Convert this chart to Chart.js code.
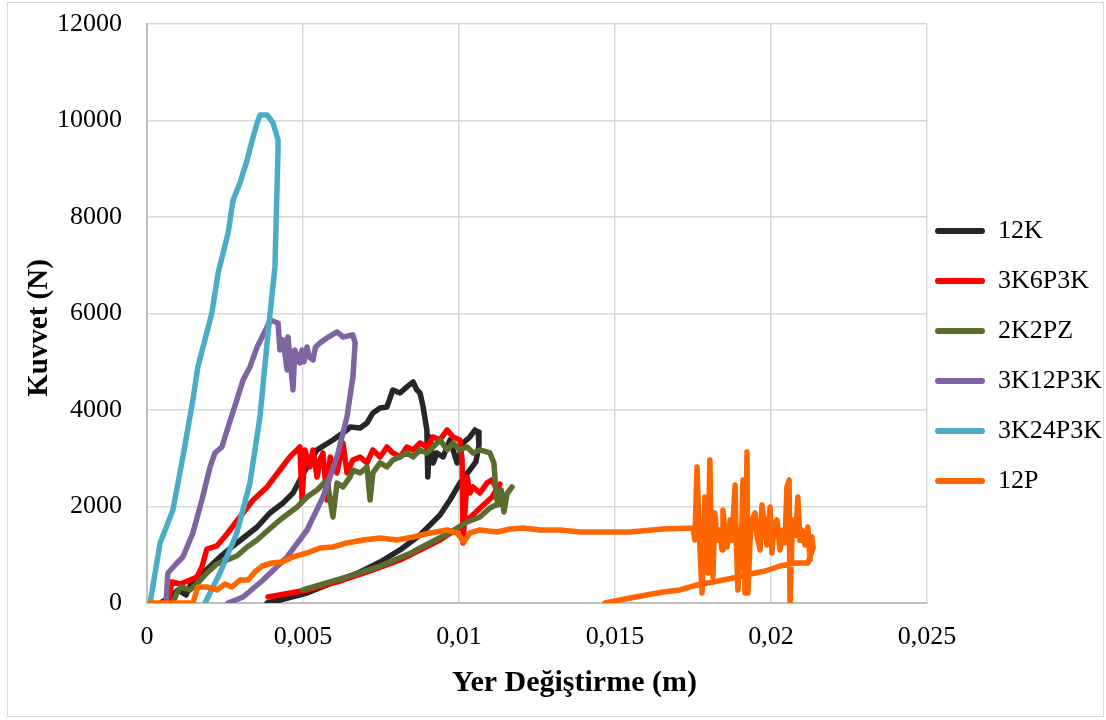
<!DOCTYPE html>
<html>
<head>
<meta charset="utf-8">
<title>Kuvvet - Yer Değiştirme</title>
<script src="https://cdn.jsdelivr.net/npm/chart.js@4/dist/chart.umd.min.js"></script>
<style>
  html, body { margin: 0; padding: 0; background: #ffffff; }
  #wrap { width: 1106px; height: 720px; position: relative; }
</style>
</head>
<body>
<div id="wrap"><canvas id="chart" width="1106" height="720"></canvas></div>
<script>
// Force (N) versus displacement (m) for each laminate; every curve loads, then unloads back to zero.
const seriesNames = ['12K', '3K6P3K', '2K2PZ', '3K12P3K', '3K24P3K', '12P'];

const x12K = [0.00042,0.00074,0.00099,0.00125,0.00147,0.0018,0.00234,0.00288,0.00353,0.00394,0.00436,0.00468,0.0049,0.00513,0.00545,0.00596,0.00641,0.00651,0.00683,0.00705,0.00724,0.00747,0.00769,0.00788,0.00811,0.00833,0.00853,0.00865,0.00875,0.00885,0.00897,0.009,0.00907,0.00917,0.00929,0.00949,0.00971,0.00994,0.01013,0.01035,0.01051,0.01061,0.01064,0.01054,0.01035,0.01003,0.00971,0.00939,0.00875,0.00811,0.00747,0.00683,0.00609,0.00513,0.00426,0.00385];
const y12K = [0,124,270,166,477,622,954,1244,1575,1866,2073,2280,2550,2819,3172,3379,3586,3648,3628,3731,3939,4042,4063,4415,4353,4478,4581,4415,4353,4063,3586,2612,3441,2902,3110,3027,3379,2902,3317,3441,3586,3545,3275,2923,2757,2488,2135,1824,1410,1099,850,643,456,207,62,0];

const x3K6P3K = [0.00067,0.0008,0.00106,0.00138,0.0016,0.00176,0.00192,0.00224,0.00256,0.00298,0.0034,0.00385,0.00426,0.00458,0.0049,0.00497,0.00506,0.00522,0.00532,0.00545,0.00554,0.00564,0.00577,0.00587,0.00609,0.00628,0.00641,0.0066,0.00683,0.00705,0.00724,0.00747,0.00769,0.00788,0.00811,0.00833,0.00853,0.00875,0.00897,0.00917,0.00939,0.00962,0.00981,0.01003,0.0101,0.01013,0.01026,0.01035,0.01045,0.01067,0.0109,0.01106,0.01122,0.01131,0.01106,0.01051,0.01003,0.00939,0.00875,0.00811,0.00715,0.00619,0.00513,0.00442,0.00388];
const y3K6P3K = [0,435,394,477,539,746,1119,1182,1430,1783,2135,2405,2757,3027,3234,2135,3172,2819,3172,2612,2964,3110,2135,3027,2695,3317,2695,2964,3027,2902,3172,3027,3234,3110,3027,3234,3172,3317,3234,3441,3379,3586,3441,3379,2964,1244,2612,2280,2405,2280,2488,2550,2343,2467,2197,1866,1575,1306,1099,891,663,456,270,187,124];

const x2K2PZ = [0.00083,0.00096,0.00109,0.00138,0.00163,0.00192,0.00224,0.00256,0.00288,0.00321,0.00353,0.00385,0.00426,0.00481,0.00513,0.00545,0.00577,0.00596,0.00609,0.00628,0.00651,0.0066,0.00683,0.00705,0.00715,0.00724,0.00747,0.00769,0.00788,0.00811,0.00833,0.00853,0.00875,0.00897,0.00917,0.00939,0.00962,0.00981,0.01003,0.01026,0.01045,0.01067,0.01099,0.01112,0.01119,0.01125,0.01135,0.01144,0.01154,0.0117,0.01131,0.01099,0.01067,0.01026,0.00962,0.00875,0.00853,0.00747,0.00641,0.00532,0.005];
const y2K2PZ = [0,207,332,270,415,622,808,891,974,1161,1306,1493,1721,1990,2197,2343,2550,1783,2488,2405,2612,2757,2695,2819,2135,2695,2902,2819,2964,3027,3110,3027,3172,3110,3234,3379,3172,3317,3172,3234,3110,3172,3110,2902,2239,2032,2343,1886,2260,2405,2073,1969,1783,1679,1430,1140,1057,767,539,332,270];

const x3K12P3K = [0.00061,0.00067,0.00096,0.00115,0.00147,0.00176,0.00202,0.00218,0.0024,0.0026,0.00288,0.00308,0.0033,0.00353,0.00385,0.00394,0.0042,0.00426,0.00436,0.00449,0.00452,0.00468,0.00474,0.0049,0.00497,0.00503,0.00513,0.0052,0.00532,0.0054,0.00554,0.00577,0.00609,0.00628,0.0066,0.00667,0.0066,0.00641,0.00609,0.00564,0.00513,0.00449,0.00372,0.00308,0.0026];
const y3K12P3K = [0,622,829,954,1451,2135,2819,3110,3234,3648,4208,4623,4892,5307,5721,5866,5804,5245,5452,4830,5514,4415,5245,4975,5245,5000,5307,5100,5037,5300,5390,5493,5618,5514,5556,5390,4685,3856,3027,2197,1513,954,477,124,0];

const x3K24P3K = [0.0001,0.00042,0.00083,0.00115,0.00147,0.00163,0.00208,0.00228,0.0026,0.00276,0.00298,0.00321,0.0034,0.00353,0.00362,0.00385,0.00404,0.0042,0.0042,0.0041,0.00388,0.00362,0.0033,0.00288,0.00234,0.00186];
const y3K24P3K = [0,1244,1928,3027,4208,4892,6012,6841,7670,8354,8707,9183,9660,9950,10116,10116,9950,9598,9390,6965,5597,3856,2488,1451,622,0];

const x12P = [0.0001,0.00147,0.00163,0.00192,0.00224,0.0025,0.00272,0.00298,0.00324,0.00346,0.00369,0.00401,0.00433,0.00468,0.00513,0.00554,0.00596,0.00641,0.00692,0.00747,0.00801,0.00853,0.00907,0.00962,0.00994,0.01016,0.01035,0.01067,0.01122,0.01163,0.01205,0.0126,0.01324,0.01388,0.01452,0.01548,0.01654,0.0175,
  0.01756,0.01763,0.01769,0.01772,0.01779,0.01785,0.01788,0.01795,0.01798,0.01804,0.01808,0.01814,0.0182,0.01827,0.01836,0.01843,0.01846,0.01852,0.01859,0.01869,0.01875,0.01885,0.01888,0.01894,0.01901,0.01907,0.0191,0.01913,0.01917,0.01923,0.01926,0.01933,0.01939,0.01949,0.01955,0.01965,0.01971,0.01981,0.01987,0.01997,0.02003,0.0201,0.02019,0.02029,0.02038,0.02045,0.02051,0.02058,0.02061,0.02067,0.0207,0.0208,0.02086,0.02093,0.02099,0.02109,0.02118,0.02125,0.02131,0.02135,
  0.02118,0.02077,0.02029,0.01981,0.01933,0.01878,0.01814,0.01763,0.01708,0.01654,0.01548,0.01468];
const y12P = [0,0,332,332,270,394,332,477,477,643,767,829,850,954,1037,1140,1161,1244,1306,1347,1306,1368,1451,1513,1451,1265,1451,1513,1472,1534,1555,1513,1513,1472,1472,1472,1534,1555,
  1306,2819,1600,1161,207,1400,2197,1200,622,2964,1500,539,1866,1300,1513,1100,1928,1500,1161,1721,1300,2446,1400,270,1161,1700,2550,1300,207,3130,207,1300,1721,1866,1400,1099,2032,1513,1200,1990,1037,1600,1721,1099,1513,1250,2405,2550,0,1300,1721,1400,2197,1300,1513,1202,1575,891,1368,1140,
  829,829,767,663,601,518,435,373,270,228,104,0];

const seriesX = [x12K, x3K6P3K, x2K2PZ, x3K12P3K, x3K24P3K, x12P];
const seriesY = [y12K, y3K6P3K, y2K2PZ, y3K12P3K, y3K24P3K, y12P];
const seriesColors = ['#262626', '#FF0000', '#5A6D2F', '#8064A2', '#4BACC6', '#FF6600'];

const FONT = "'Liberation Serif', 'Times New Roman', serif";

const datasets = seriesNames.map((name, i) => ({
  label: name,
  data: seriesX[i].map((x, k) => ({ x: x, y: seriesY[i][k] })),
  showLine: true,
  borderColor: seriesColors[i],
  backgroundColor: seriesColors[i],
  borderWidth: 5.5,
  borderJoinStyle: 'round',
  borderCapStyle: 'round',
  pointRadius: 0,
  pointHoverRadius: 0,
  tension: 0,
  // later series are painted over earlier ones
  order: seriesNames.length - i
}));

// white page with a thin frame around the whole figure
const framePlugin = {
  id: 'frame',
  beforeDraw(chart) {
    const c = chart.ctx;
    c.save();
    c.fillStyle = '#ffffff';
    c.fillRect(0, 0, chart.width, chart.height);
    c.strokeStyle = '#d9d9d9';
    c.lineWidth = 1;
    c.strokeRect(7.5, 2.5, 1096, 714);
    c.restore();
  }
};

const fmtComma = v => String(Math.round(v * 1000) / 1000).replace('.', ',');

new Chart(document.getElementById('chart'), {
  type: 'scatter',
  data: { datasets: datasets },
  plugins: [framePlugin],
  options: {
    responsive: false,
    devicePixelRatio: 1,
    animation: false,
    layout: { padding: { left: 8, right: 0, top: 24, bottom: 16 } },
    plugins: {
      tooltip: { enabled: false },
      legend: {
        position: 'right',
        align: 'center',
        maxWidth: 179,
        labels: {
          boxWidth: 50,
          boxHeight: 6,
          padding: 8,
          color: '#000000',
          font: { family: FONT, size: 26, lineHeight: '42px' },
          sort: (a, b) => a.datasetIndex - b.datasetIndex,
          generateLabels(chart) {
            const items = Chart.defaults.plugins.legend.labels.generateLabels(chart);
            return items.map(it => Object.assign({}, it, {
              text: [it.text],
              lineWidth: 0,
              borderRadius: 3
            }));
          }
        }
      }
    },
    scales: {
      x: {
        type: 'linear',
        min: 0,
        max: 0.025,
        afterFit(scale) { scale.height = 101; },
        ticks: {
          stepSize: 0.005,
          padding: 19,
          maxRotation: 0,
          autoSkip: false,
          color: '#000000',
          font: { family: FONT, size: 26 },
          callback: v => fmtComma(v)
        },
        grid: { color: '#d9d9d9', lineWidth: 1.5, drawTicks: false },
        border: { color: '#bfbfbf', width: 2 },
        title: {
          display: true,
          // leading spaces nudge the title to the right of the axis centre
          text: '          Yer Değiştirme (m)',
          color: '#000000',
          font: { family: FONT, size: 30, weight: 'bold' },
          padding: { top: 0, bottom: 3 }
        }
      },
      y: {
        type: 'linear',
        min: 0,
        max: 12000,
        afterFit(scale) {
          scale.width = 139;
          // tick labels may overhang the plot edges; keep the plot area fixed
          scale.paddingTop = 0;
          scale.paddingBottom = 0;
        },
        ticks: {
          stepSize: 2000,
          padding: 25,
          color: '#000000',
          font: { family: FONT, size: 26 },
          callback: v => String(v)
        },
        grid: { color: '#d9d9d9', lineWidth: 1.5, drawTicks: false },
        border: { color: '#bfbfbf', width: 2 },
        title: {
          display: true,
          // trailing spaces nudge the title down from the axis centre
          text: 'Kuvvet (N)    ',
          color: '#000000',
          font: { family: FONT, size: 29, weight: 'bold' },
          padding: { top: 14, bottom: 0 }
        }
      }
    }
  }
});
</script>
</body>
</html>
